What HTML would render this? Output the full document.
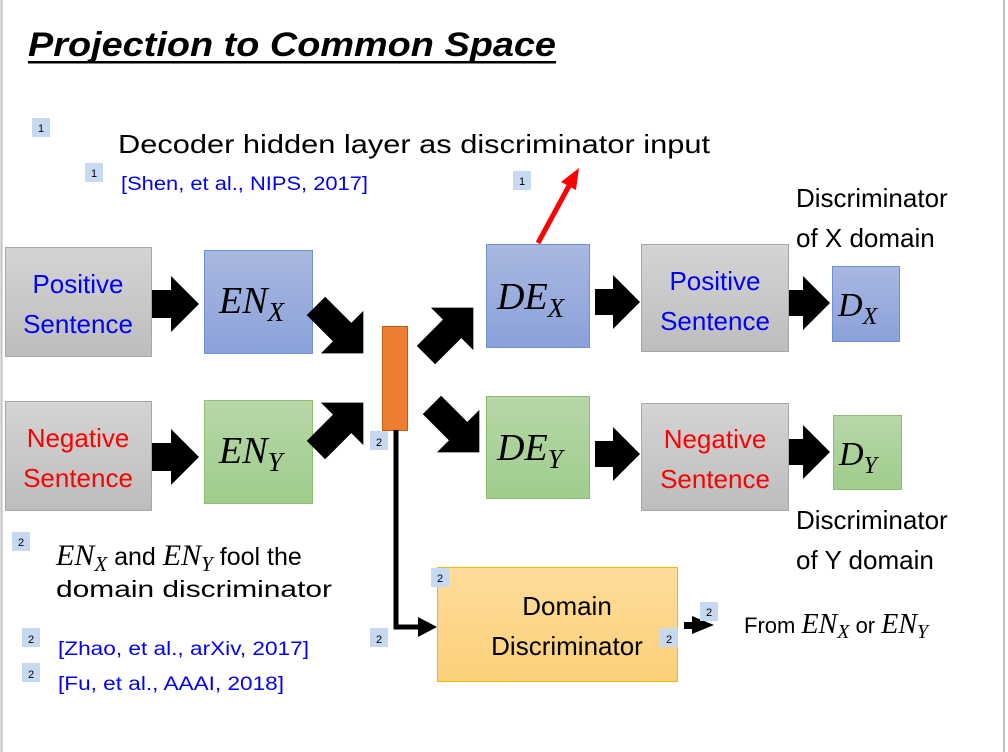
<!DOCTYPE html>
<html><head><meta charset="utf-8"><style>
html,body{margin:0;padding:0;background:#fff;}
svg{display:block;font-family:"Liberation Sans",sans-serif;}
.m{font-family:"Liberation Serif",serif;font-style:italic;}
</style></head><body>
<svg width="1008" height="752" viewBox="0 0 1008 752" xmlns="http://www.w3.org/2000/svg">
<defs>
<linearGradient id="gg" x1="0" y1="0" x2="0" y2="1"><stop offset="0" stop-color="#d4d4d4"/><stop offset="1" stop-color="#bdbdbd"/></linearGradient>
<linearGradient id="gb" x1="0" y1="0" x2="0" y2="1"><stop offset="0" stop-color="#a9b8e0"/><stop offset="1" stop-color="#8aa1d9"/></linearGradient>
<linearGradient id="gr" x1="0" y1="0" x2="0" y2="1"><stop offset="0" stop-color="#b7d7a8"/><stop offset="1" stop-color="#9fcd8b"/></linearGradient>
<linearGradient id="go" x1="0" y1="0" x2="0" y2="1"><stop offset="0" stop-color="#fedc9a"/><stop offset="1" stop-color="#fcd07a"/></linearGradient>
<polygon id="da" points="-34,-13 3,-13 3,-30 33,0 3,30 3,13 -34,13" fill="#000"/>
</defs>
<line x1="1.5" y1="0" x2="1.5" y2="752" stroke="#bfbfbf" stroke-width="2"/>
<line x1="1004" y1="0" x2="1004" y2="752" stroke="#bfbfbf" stroke-width="2"/>

<text x="28" y="56" font-size="34" font-weight="bold" font-style="italic" textLength="528" lengthAdjust="spacingAndGlyphs">Projection to Common Space</text>
<rect x="28" y="61" width="528" height="2.5" fill="#000"/>

<text x="118" y="153" font-size="26" textLength="592" lengthAdjust="spacingAndGlyphs">Decoder hidden layer as discriminator input</text>
<text x="121" y="190" font-size="19" fill="#0000ff" textLength="247" lengthAdjust="spacingAndGlyphs">[Shen, et al., NIPS, 2017]</text>

<rect x="5.5" y="247.5" width="146" height="109" fill="url(#gg)" stroke="#a6a6a6"/>
<text x="78" y="293" font-size="26" fill="#0000ff" text-anchor="middle">Positive</text>
<text x="78" y="333" font-size="26" fill="#0000ff" text-anchor="middle">Sentence</text>
<rect x="5.5" y="401.5" width="146" height="109" fill="url(#gg)" stroke="#a6a6a6"/>
<text x="78" y="447" font-size="26" fill="#ff0000" text-anchor="middle">Negative</text>
<text x="78" y="487" font-size="26" fill="#ff0000" text-anchor="middle">Sentence</text>

<rect x="204.5" y="250.5" width="108" height="103" fill="url(#gb)" stroke="#6f8fd6"/>
<text x="219" y="313" font-size="38" class="m">EN<tspan font-size="27" dy="8">X</tspan></text>
<rect x="204.5" y="400.5" width="108" height="103" fill="url(#gr)" stroke="#8cc070"/>
<text x="219" y="463" font-size="38" class="m">EN<tspan font-size="27" dy="8">Y</tspan></text>

<rect x="382.5" y="326.5" width="25" height="104" fill="#ed7d31" stroke="#c55a11"/>

<rect x="486.5" y="244.5" width="103" height="103" fill="url(#gb)" stroke="#6f8fd6"/>
<text x="497" y="309" font-size="38" class="m">DE<tspan font-size="27" dy="8">X</tspan></text>
<rect x="486.5" y="396.5" width="103" height="102" fill="url(#gr)" stroke="#8cc070"/>
<text x="497" y="460" font-size="38" class="m">DE<tspan font-size="27" dy="8">Y</tspan></text>

<rect x="641.5" y="244.5" width="147" height="107" fill="url(#gg)" stroke="#a6a6a6"/>
<text x="715" y="290" font-size="26" fill="#0000ff" text-anchor="middle">Positive</text>
<text x="715" y="330" font-size="26" fill="#0000ff" text-anchor="middle">Sentence</text>
<rect x="641.5" y="403.5" width="147" height="107" fill="url(#gg)" stroke="#a6a6a6"/>
<text x="715" y="448" font-size="26" fill="#ff0000" text-anchor="middle">Negative</text>
<text x="715" y="488" font-size="26" fill="#ff0000" text-anchor="middle">Sentence</text>

<rect x="832.5" y="266.5" width="67" height="75" fill="url(#gb)" stroke="#6f8fd6"/>
<text x="838" y="316" font-size="34" class="m">D<tspan font-size="24" dy="8">X</tspan></text>
<rect x="833.5" y="415.5" width="68" height="74" fill="url(#gr)" stroke="#8cc070"/>
<text x="839" y="465" font-size="34" class="m">D<tspan font-size="24" dy="8">Y</tspan></text>

<g font-size="26">
<text x="796" y="207">Discriminator</text>
<text x="796" y="247">of X domain</text>
<text x="796" y="529">Discriminator</text>
<text x="796" y="569">of Y domain</text>
</g>

<rect x="437.5" y="567.5" width="240" height="114" fill="url(#go)" stroke="#f5b800"/>
<text x="567" y="615" font-size="26" text-anchor="middle">Domain</text>
<text x="567" y="655" font-size="26" text-anchor="middle">Discriminator</text>

<g fill="#000">
<polygon points="152,290 171,290 171,276 199,304 171,332 171,318 152,318"/>
<polygon points="152,443 171,443 171,429 199,457 171,485 171,471 152,471"/>
<polygon points="595,289 613,289 613,275 640,302 613,329 613,315 595,315"/>
<polygon points="595,441 613,441 613,427 640,454 613,481 613,467 595,467"/>
<polygon points="789,290 803,290 803,276 830,303 803,330 803,316 789,316"/>
<polygon points="789,439 803,439 803,425 830,452 803,479 803,465 789,465"/>
</g>
<use href="#da" transform="translate(340,330) rotate(45)"/>
<use href="#da" transform="translate(340,426) rotate(-45)"/>
<use href="#da" transform="translate(450,331) rotate(-45)"/>
<use href="#da" transform="translate(456,429) rotate(45)"/>

<line x1="538" y1="243" x2="570" y2="184" stroke="#ff0000" stroke-width="5"/>
<polygon points="579,168 576,190 561,182" fill="#ff0000"/>

<polyline points="396,430 396,627 420,627" fill="none" stroke="#000" stroke-width="5"/>
<polygon points="418,617 437,627 418,637" fill="#000"/>
<rect x="684" y="622" width="10" height="7" fill="#000"/>
<polygon points="692,616 714,625 692,634" fill="#000"/>

<text x="744" y="633" font-size="22">From <tspan class="m" font-size="28">EN<tspan font-size="20" dy="5">X</tspan></tspan><tspan dy="-5"> or </tspan><tspan class="m" font-size="28">EN<tspan font-size="20" dy="5">Y</tspan></tspan></text>

<text x="56" y="565" font-size="25"><tspan class="m" font-size="30">EN<tspan font-size="21" dy="6">X</tspan></tspan><tspan dy="-6"> and </tspan><tspan class="m" font-size="30">EN<tspan font-size="21" dy="6">Y</tspan></tspan><tspan dy="-6"> fool the</tspan></text>
<text x="56" y="597" font-size="23" textLength="276" lengthAdjust="spacingAndGlyphs">domain discriminator</text>
<text x="58" y="655" font-size="19" fill="#0000ff" textLength="251" lengthAdjust="spacingAndGlyphs">[Zhao, et al., arXiv, 2017]</text>
<text x="58" y="690" font-size="19" fill="#0000ff" textLength="226" lengthAdjust="spacingAndGlyphs">[Fu, et al., AAAI, 2018]</text>

<g font-size="11" text-anchor="middle">
<rect x="32" y="118" width="18" height="19" fill="#c6d9f1"/><text x="41" y="132">1</text>
<rect x="85" y="163" width="18" height="19" fill="#c6d9f1"/><text x="94" y="177">1</text>
<rect x="513" y="171" width="18" height="19" fill="#c6d9f1"/><text x="522" y="185">1</text>
<rect x="370" y="431" width="18" height="19" fill="#c6d9f1"/><text x="379" y="446">2</text>
<rect x="12" y="532" width="18" height="19" fill="#c6d9f1"/><text x="21" y="546">2</text>
<rect x="22" y="628" width="18" height="19" fill="#c6d9f1"/><text x="31" y="643">2</text>
<rect x="22" y="663" width="18" height="19" fill="#c6d9f1"/><text x="31" y="678">2</text>
<rect x="370" y="628" width="18" height="19" fill="#c6d9f1"/><text x="379" y="643">2</text>
<rect x="431" y="568" width="18" height="19" fill="#c6d9f1"/><text x="440" y="582">2</text>
<rect x="700" y="602" width="18" height="19" fill="#c6d9f1"/><text x="709" y="616">2</text>
<rect x="660" y="628" width="18" height="19" fill="#c6d9f1"/><text x="669" y="643">2</text>
</g>
</svg>
</body></html>
